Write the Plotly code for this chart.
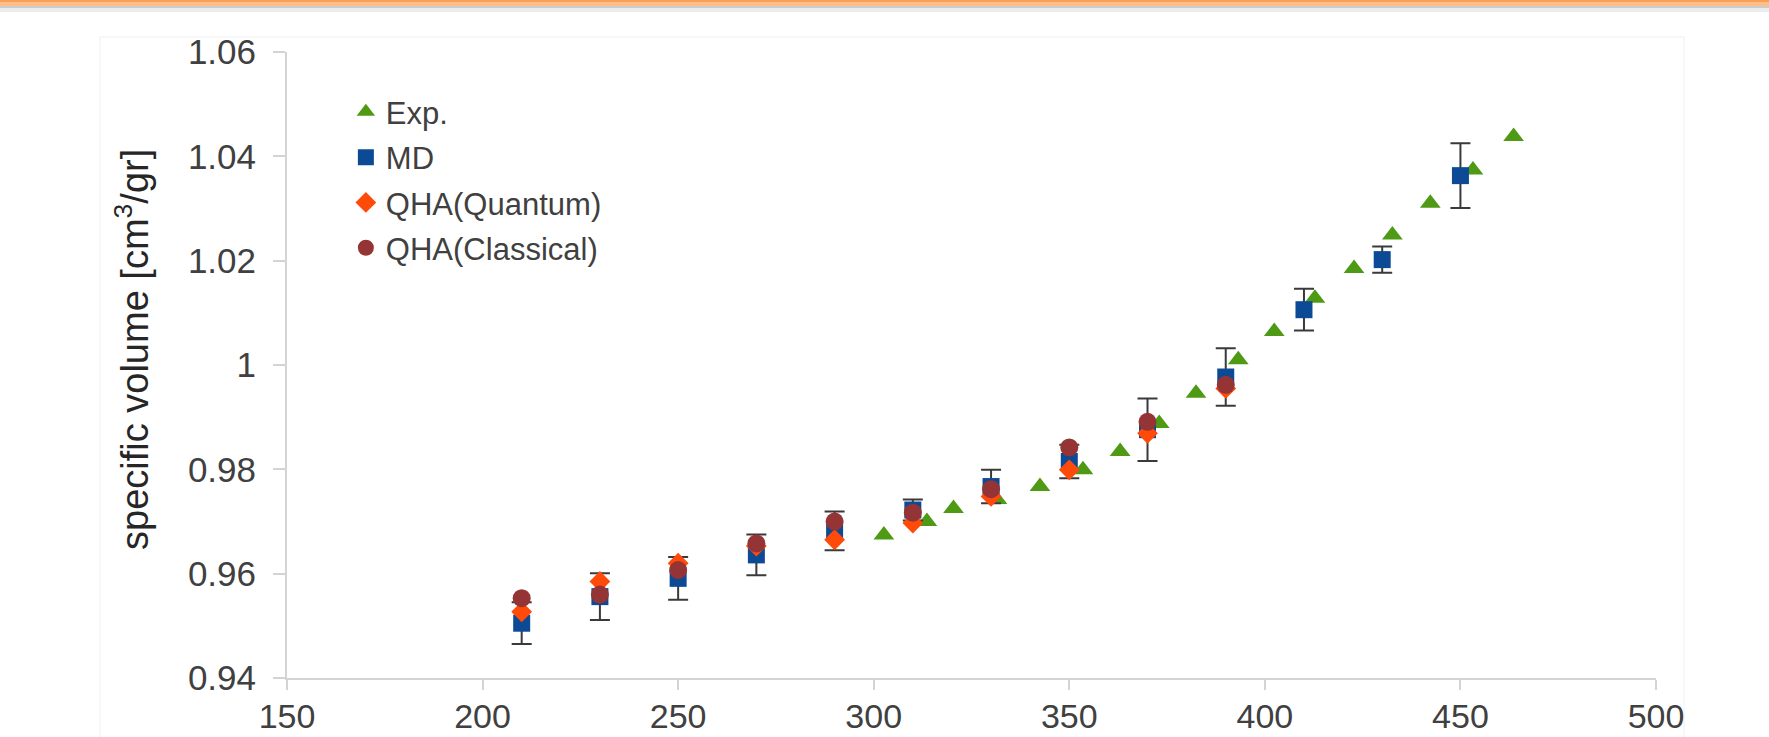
import plotly.graph_objects as go

# ---- data ----
exp_T = [302.6, 313.6, 320.4, 331.5, 342.5, 353.5, 363.0, 373.0, 382.4, 393.2,
         402.4, 412.8, 422.8, 432.6, 442.3, 453.2, 463.6]
exp_v = [0.9674, 0.9700, 0.9725, 0.9742, 0.9767, 0.9799, 0.9834, 0.9888, 0.9946, 1.0010,
         1.0064, 1.0128, 1.0185, 1.0249, 1.0310, 1.0374, 1.0438]

md_T = [210, 230, 250, 270, 290, 310, 330, 350, 370, 390, 410, 430, 450]
md_v = [0.9505, 0.9556, 0.9591, 0.9636, 0.9682, 0.9722, 0.9767, 0.9815, 0.9876, 0.9977,
        1.0106, 1.0202, 1.0363]
md_err = [0.0040, 0.0045, 0.0041, 0.0039, 0.0037, 0.0020, 0.0032, 0.0032, 0.0060, 0.0055,
          0.0040, 0.0025, 0.0062]

qha_T = [210, 230, 250, 270, 290, 310, 330, 350, 370, 390]
qha_quantum = [0.9527, 0.9585, 0.9620, 0.9653, 0.9665, 0.9697, 0.9748, 0.9799, 0.9869, 0.9955]
qha_classical = [0.9553, 0.9560, 0.9607, 0.9658, 0.9700, 0.9717, 0.9762, 0.9842, 0.9891, 0.9962]

x_ticks = [150, 200, 250, 300, 350, 400, 450, 500]
y_ticks = [0.94, 0.96, 0.98, 1.00, 1.02, 1.04, 1.06]
y_ticktext = ["0.94", "0.96", "0.98", "1", "1.02", "1.04", "1.06"]
y_title = "specific volume [cm<sup>3</sup>/gr]"

FONT = "Arial, Liberation Sans, sans-serif"
TXT = "#404040"
AXC = "#d4d4d4"

fig = go.Figure()
fig.add_trace(go.Scatter(
    x=exp_T, y=exp_v, mode="markers", name="Exp.", legendgroup="a",
    marker=dict(symbol="triangle-up", size=18, color="#4e9a14", line=dict(width=0))))
fig.add_trace(go.Scatter(
    x=md_T, y=md_v, mode="markers", name="MD", legendgroup="b",
    marker=dict(symbol="square", size=17, color="#0c4a96", line=dict(width=0)),
    error_y=dict(type="data", array=md_err, visible=True, color="#3a3a3a",
                 thickness=2, width=10)))
fig.add_trace(go.Scatter(
    x=qha_T, y=qha_quantum, mode="markers", name="QHA(Quantum)", legendgroup="c",
    marker=dict(symbol="diamond", size=16, color="#ff4a0a", line=dict(width=0))))
fig.add_trace(go.Scatter(
    x=qha_T, y=qha_classical, mode="markers", name="QHA(Classical)", legendgroup="d",
    marker=dict(symbol="circle", size=18, color="#953434", line=dict(width=0))))

W, H = 1769, 737
L, R, T, B = 287, 1769 - 1656, 52, 737 - 678
ph = H - T - B
pw = W - L - R


def py(px_from_top):
    return 1 - (px_from_top - T) / ph


def px(px_from_left):
    return (px_from_left - L) / pw


shapes = [
    # faint chart-area border
    dict(type="rect", xref="paper", yref="paper", x0=px(100), x1=px(1684), y0=py(760), y1=py(37),
         line=dict(color="#f0f0f0", width=1), fillcolor="rgba(0,0,0,0)", layer="below"),
    # top orange band with shadow
    dict(type="rect", xref="paper", yref="paper", x0=px(0), x1=px(W), y0=py(12), y1=py(6),
         line=dict(width=0), fillcolor="#ececec", layer="below"),
    dict(type="rect", xref="paper", yref="paper", x0=px(0), x1=px(W), y0=py(8), y1=py(6),
         line=dict(width=0), fillcolor="#cccccc", layer="below"),
    dict(type="rect", xref="paper", yref="paper", x0=px(0), x1=px(W), y0=py(6), y1=py(0),
         line=dict(width=0), fillcolor="#fdbf86", layer="below"),
    dict(type="rect", xref="paper", yref="paper", x0=px(0), x1=px(W), y0=py(2), y1=py(0),
         line=dict(width=0), fillcolor="#f7a05a", layer="below"),
]

fig.update_layout(
    width=W, height=H,
    margin=dict(l=L, r=R, t=T, b=B, pad=0),
    paper_bgcolor="white", plot_bgcolor="white",
    font=dict(family=FONT, color=TXT, size=34),
    showlegend=True,
    legend=dict(x=0.043, y=0.947, xanchor="left", yanchor="top",
                bgcolor="rgba(0,0,0,0)", font=dict(size=31, color=TXT),
                tracegroupgap=2, itemsizing="trace"),
    shapes=shapes,
    annotations=[dict(text=y_title, textangle=-90, xref="paper", yref="paper",
                      x=px(132), y=py(350), xanchor="center", yanchor="middle",
                      showarrow=False, font=dict(size=38, color="#262626"))],
)
fig.update_xaxes(
    range=[150, 500], tickvals=x_ticks, showgrid=False, zeroline=False,
    showline=True, linecolor=AXC, linewidth=2,
    ticks="outside", ticklen=10, tickwidth=2, tickcolor=AXC, ticklabelstandoff=-3,
    tickfont=dict(size=34, color=TXT), automargin=False)
fig.update_yaxes(
    range=[0.94, 1.06], tickvals=y_ticks, ticktext=y_ticktext, showgrid=False, zeroline=False,
    showline=True, linecolor=AXC, linewidth=2,
    ticks="outside", ticklen=12, tickwidth=2, tickcolor=AXC, ticklabelstandoff=10,
    tickfont=dict(size=35, color=TXT), automargin=False)

fig.write_html(
    "out.html",
    config={"displayModeBar": False},
    post_script="document.body.style.margin='0px';document.body.style.overflow='hidden';",
)
